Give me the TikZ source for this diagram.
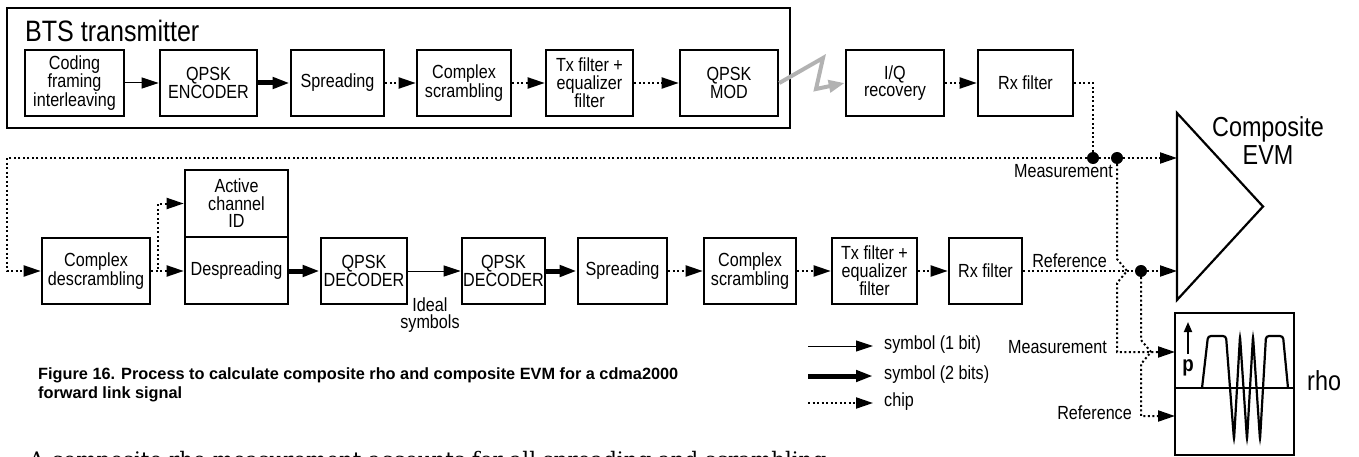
\documentclass[tikz,border=0pt]{standalone}
\usepackage{fontspec}
\setmainfont{Liberation Sans}[FakeStretch=0.85]
\newfontfamily\capfont{Liberation Sans}
\newfontfamily\bodyserif{DejaVu Serif}
\usetikzlibrary{arrows.meta}

\begin{document}
\begin{tikzpicture}[x=1pt,y=-1pt,
	box/.style={draw,line width=2.6pt,align=center,inner sep=0pt,minimum height=66pt,font=\fontsize{19}{17.5}\selectfont},
	lbl/.style={inner sep=0pt,font=\fontsize{19}{17}\selectfont},
	tip/.style={-{Triangle[length=17pt,width=11pt]}},
	sym/.style={tip,line width=1pt},
	symtwo/.style={tip,line width=5pt},
	chip/.style={line width=2pt,dash pattern=on 2pt off 2.5pt},
	jdot/.style={circle,fill,inner sep=0pt,minimum size=12pt}]
	\useasboundingbox (0,0) rectangle (1359,457);
	\node[draw,line width=2.6pt,minimum width=783pt,minimum height=120pt] (bts) at (398.5,68) {};
	\node[anchor=west,inner sep=0pt,font=\fontsize{29.5}{29.5}\selectfont] (btsl) at (25,31) {BTS transmitter};
	\node[box,minimum width=99pt] (code) at (74.5,83) {Coding\\framing\\interleaving};
	\node[box,minimum width=97pt] (enc) at (208.5,83) {QPSK\\ENCODER};
	\node[box,minimum width=93pt] (spr) at (337.5,83) {Spreading};
	\node[box,minimum width=94pt] (scr) at (464,83) {Complex\\scrambling};
	\node[box,minimum width=87pt] (txf) at (589.5,83) {Tx filter +\\equalizer\\filter};
	\node[box,minimum width=98pt] (mod) at (729,83) {QPSK\\MOD};
	\node[box,minimum width=98pt] (iq) at (895,83) {I/Q\\recovery};
	\node[box,minimum width=95pt] (rxf) at (1025.5,83) {Rx filter};
	\draw[sym] (code) -- (enc);
	\draw[symtwo] (enc) -- (spr);
	\draw[chip,tip] (spr) -- (scr);
	\draw[chip,tip] (scr) -- (txf);
	\draw[chip,tip] (txf) -- (mod);
	\draw[line width=4pt,gray!60,-{Triangle[length=16pt,width=12pt]}] (mod.east) -- (823,58) -- (816,89) -- (iq.west);
	\draw[chip,tip] (iq) -- (rxf);

	\node[box,minimum width=108pt] (desc) at (96,271) {Complex\\descrambling};
	\node[box,minimum width=103pt,minimum height=67pt] (act) at (236.5,203.5) {Active\\channel\\ID};
	\node[box,minimum width=103pt,minimum height=67pt] (desp) at (236.5,270.5) {Despreading};
	\node[box,minimum width=86pt] (dec) at (364,271) {QPSK\\DECODER};
	\node[box,minimum width=83pt] (dectwo) at (503.5,271) {QPSK\\DECODER};
	\node[box,minimum width=89pt] (sprtwo) at (622.5,271) {Spreading};
	\node[box,minimum width=92pt] (scrtwo) at (750,271) {Complex\\scrambling};
	\node[box,minimum width=85pt] (txftwo) at (874.5,271) {Tx filter +\\equalizer\\filter};
	\node[box,minimum width=73pt] (rxftwo) at (985.5,271) {Rx filter};
	\node[lbl,align=center] (ideal) at (430,315) {Ideal\\symbols};
	\draw[chip,tip] (desc.east) -- (desc.east -| desp.west);
	\draw[chip,tip] (desc.east) -- ++(7,0) |- (act.west);
	\draw[symtwo] (desp.east |- dec.west) -- (dec.west);
	\draw[sym] (dec) -- (dectwo);
	\draw[symtwo] (dectwo) -- (sprtwo);
	\draw[chip,tip] (sprtwo) -- (scrtwo);
	\draw[chip,tip] (scrtwo) -- (txftwo);
	\draw[chip,tip] (txftwo) -- (rxftwo);

	\node[jdot] (jone) at (1093,158) {};
	\node[jdot] (jtwo) at (1117,158) {};
	\node[jdot] (jthree) at (1141,271) {};
	\draw[line width=2.2pt] (1177,113) -- (1263,206.5) -- (1177,300) -- cycle;
	\coordinate (evmm) at (1177,158);
	\coordinate (evmr) at (1177,271);
	\node[align=center,inner sep=0pt,font=\fontsize{27.5}{28}\selectfont] (evml) at (1268,141) {Composite\\EVM};
	\draw[chip] (rxf.east) -| (jone);
	\draw[chip,tip] (jone) -- (7,158) |- (desc.west);
	\draw[chip] (jone) -- (jtwo);
	\draw[chip,tip] (jtwo) -- (evmm);
	\draw[chip] (rxftwo) -- (jthree);
	\draw[chip,tip] (jthree) -- (evmr);
	\node[lbl,anchor=east] (mlblone) at (1113,171) {Measurement};
	\node[lbl,anchor=east] (rlblone) at (1107,261) {Reference};

	\draw[line width=2.2pt] (1175,313) rectangle (1294,455);
	\coordinate (rhom) at (1175,352);
	\coordinate (rhor) at (1175,416);
	\draw[chip,tip] (jtwo) -- (1117,259) -- (1127,271) -- (1117,283) |- (rhom);
	\draw[chip,tip] (jthree) -- (1141,340) -- (1151,352) -- (1141,364) |- (rhor);
	\node[lbl,anchor=east] (mlbltwo) at (1107,347) {Measurement};
	\node[lbl,anchor=east] (rlbltwo) at (1132,413) {Reference};
	\draw[line width=2.2pt] (1175,388) -- (1294,388);
	\draw[line width=1.8pt,-{Triangle[length=10pt,width=8pt]}] (1188,354) -- (1188,322);
	\node[inner sep=0pt,font=\bfseries\fontsize{22}{22}\selectfont] (p) at (1188,368) {p};
	\draw[line width=2.2pt,rounded corners=3pt] (1202,388) -- (1208,336) -- (1226,336) -- (1234,440) -- (1240,336) -- (1247,440) -- (1253,336) -- (1260,440) -- (1266,336) -- (1283,336) -- (1288,388);
	\node[anchor=west,inner sep=0pt,font=\fontsize{27.5}{27.5}\selectfont] (rhol) at (1307,381) {rho};

	\coordinate (legone) at (808,346);
	\coordinate (legtwo) at (808,376);
	\coordinate (legthree) at (808,403);
	\draw[sym] (legone) -- ++(65,0);
	\draw[symtwo] (legtwo) -- ++(65,0);
	\draw[chip,tip] (legthree) -- ++(65,0);
	\node[lbl,anchor=west] (ltone) at (884,345) {symbol (1 bit)};
	\node[lbl,anchor=west] (lttwo) at (884,375) {symbol (2 bits)};
	\node[lbl,anchor=west] (ltthree) at (884,402) {chip};
	\node[anchor=west,align=left,inner sep=0pt,font=\capfont\bfseries\fontsize{16.3}{19}\selectfont] (cap) at (38,385) {Figure 16. Process to calculate composite rho and composite EVM for a cdma2000\\forward link signal};
	\node[anchor=base west,inner sep=0pt,font=\bodyserif\fontsize{21.4}{21.4}\selectfont] (body) at (29,467) {A composite rho measurement accounts for all spreading and scrambling};
\end{tikzpicture}
\end{document}
